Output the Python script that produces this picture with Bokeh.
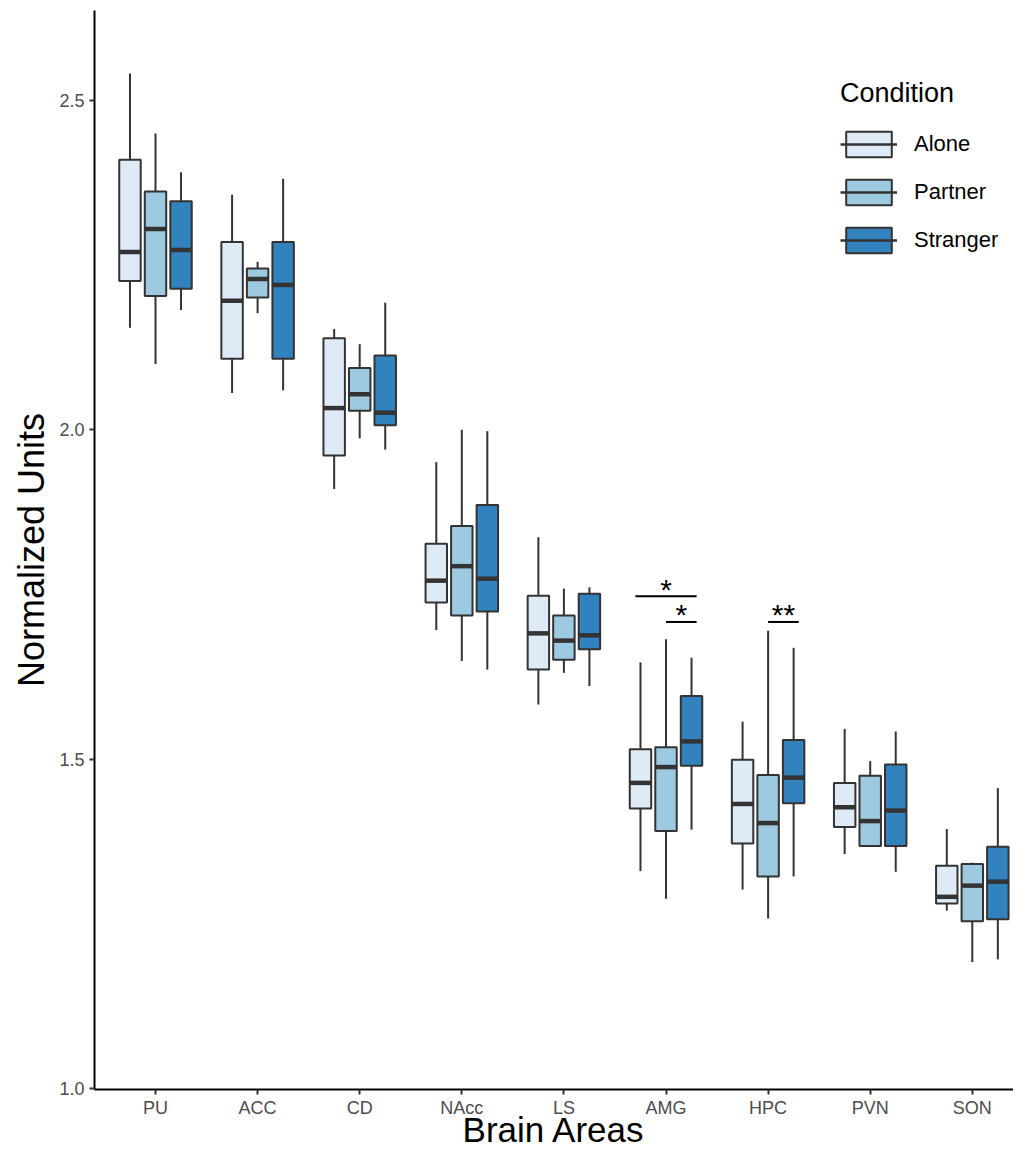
from bokeh.plotting import figure
from bokeh.models import (ColumnDataSource, Range1d, FixedTicker, Legend, LegendItem,
                          NumeralTickFormatter)
from bokeh.embed import file_html
from bokeh.resources import INLINE
from bokeh.core.properties import value
import numpy as np

# ---------------- data ----------------
areas = ["PU", "ACC", "CD", "NAcc", "LS", "AMG", "HPC", "PVN", "SON"]
conditions = ["Alone", "Partner", "Stranger"]
colors = ["#DEEBF7", "#9ECAE1", "#3182BD"]

alone_lower  = [2.155, 2.056, 1.910, 1.696, 1.583, 1.330, 1.302, 1.356, 1.270]
alone_q1     = [2.226, 2.108, 1.961, 1.738, 1.636, 1.425, 1.372, 1.397, 1.281]
alone_median = [2.270, 2.196, 2.033, 1.771, 1.691, 1.464, 1.432, 1.427, 1.291]
alone_q3     = [2.410, 2.285, 2.139, 1.827, 1.748, 1.515, 1.499, 1.464, 1.338]
alone_upper  = [2.541, 2.357, 2.153, 1.951, 1.837, 1.647, 1.557, 1.546, 1.394]

partner_lower  = [2.100, 2.177, 1.987, 1.649, 1.631, 1.288, 1.258, 1.368, 1.192]
partner_q1     = [2.203, 2.201, 2.029, 1.718, 1.651, 1.391, 1.322, 1.368, 1.254]
partner_median = [2.305, 2.229, 2.054, 1.793, 1.680, 1.488, 1.403, 1.406, 1.308]
partner_q3     = [2.362, 2.245, 2.094, 1.854, 1.718, 1.518, 1.476, 1.475, 1.341]
partner_upper  = [2.450, 2.255, 2.130, 2.000, 1.759, 1.682, 1.695, 1.497, 1.343]

stranger_lower  = [2.182, 2.060, 1.970, 1.636, 1.611, 1.393, 1.322, 1.329, 1.196]
stranger_q1     = [2.214, 2.108, 2.007, 1.724, 1.667, 1.490, 1.433, 1.368, 1.257]
stranger_median = [2.273, 2.220, 2.026, 1.774, 1.688, 1.527, 1.472, 1.422, 1.314]
stranger_q3     = [2.347, 2.285, 2.113, 1.886, 1.751, 1.596, 1.529, 1.492, 1.367]
stranger_upper  = [2.391, 2.381, 2.193, 1.998, 1.761, 1.654, 1.669, 1.542, 1.456]

# significance brackets: area, start/end offset (group units), height, label
sig_area  = ["AMG", "AMG", "HPC"]
sig_from  = [-0.3, 0.0, 0.0]
sig_to    = [0.3, 0.3, 0.3]
sig_y     = [1.7474, 1.7083, 1.7083]
sig_label = ["*", "*", "**"]

y_ticks = [1.0, 1.5, 2.0, 2.5]

stats = {
    "Alone": (alone_lower, alone_q1, alone_median, alone_q3, alone_upper),
    "Partner": (partner_lower, partner_q1, partner_median, partner_q3, partner_upper),
    "Stranger": (stranger_lower, stranger_q1, stranger_median, stranger_q3, stranger_upper),
}

# ---------------- figure ----------------
FONT = "Liberation Sans"
DARK = "#333333"
dodge = 0.25
box_w = 0.21

p = figure(width=1013, height=1151, title=None,
           x_range=Range1d(0.4025, 9.4035), y_range=Range1d(0.9985, 2.6366),
           output_backend="svg", toolbar_location=None,
           min_border_left=94, min_border_right=0, min_border_top=10, min_border_bottom=62)
p.xgrid.visible = False
p.ygrid.visible = False
p.outline_line_color = None
p.background_fill_color = "white"

base_x = np.arange(1, len(areas) + 1)
legend_items = []
for k, (cond, col) in enumerate(zip(conditions, colors)):
    lo, q1, med, q3, hi = stats[cond]
    x = base_x + (k - 1) * dodge
    src = ColumnDataSource(dict(area=areas, x=x, lo=lo, q1=q1, med=med, q3=q3, hi=hi,
                                xl=x - box_w / 2, xr=x + box_w / 2))
    p.segment(x0="x", y0="q3", x1="x", y1="hi", source=src, line_color=DARK, line_width=2)
    p.segment(x0="x", y0="q1", x1="x", y1="lo", source=src, line_color=DARK, line_width=2)
    box = p.vbar(x="x", width=box_w, top="q3", bottom="q1", source=src,
                 fill_color=col, line_color=DARK, line_width=2)
    p.segment(x0="xl", y0="med", x1="xr", y1="med", source=src, line_color=DARK, line_width=4.5)
    # legend-only median line (a single NaN row, never drawn in the plot)
    leg_med = p.segment(x0=[np.nan], y0=[np.nan], x1=[np.nan], y1=[np.nan],
                        line_color=DARK, line_width=2.5)
    legend_items.append(LegendItem(label=cond, renderers=[box, leg_med]))

# significance brackets
sig_center = np.array([areas.index(a) + 1 for a in sig_area], dtype=float)
sig_x0 = sig_center + np.array(sig_from)
sig_x1 = sig_center + np.array(sig_to)
sig_src = ColumnDataSource(dict(x0=sig_x0, x1=sig_x1, y=sig_y, xm=(sig_x0 + sig_x1) / 2,
                                label=sig_label))
p.segment(x0="x0", y0="y", x1="x1", y1="y", source=sig_src, line_color="black", line_width=2)
p.text(x="xm", y="y", text="label", source=sig_src, text_font=value(FONT),
       text_font_size="30px", text_align="center", text_baseline="alphabetic",
       text_color="black", y_offset=-7)

# ---------------- axes ----------------
p.xaxis.ticker = FixedTicker(ticks=list(base_x.astype(int)))
p.xaxis.major_label_overrides = {int(i): a for i, a in zip(base_x, areas)}
p.yaxis.ticker = FixedTicker(ticks=y_ticks)
p.yaxis.formatter = NumeralTickFormatter(format="0.0")

for ax in (p.xaxis[0], p.yaxis[0]):
    ax.axis_line_color = "black"
    ax.axis_line_width = 2
    ax.major_tick_line_color = DARK
    ax.major_tick_line_width = 2
    ax.major_tick_out = 5
    ax.major_tick_in = 0
    ax.minor_tick_line_color = None
    ax.major_label_text_font = FONT
    ax.major_label_text_font_size = "18px"
    ax.major_label_text_color = "#4D4D4D"
    ax.axis_label_text_font = FONT
    ax.axis_label_text_font_style = "normal"
    ax.axis_label_text_color = "black"

p.xaxis.axis_label = "Brain Areas"
p.xaxis.axis_label_text_font_size = "35px"
p.xaxis.major_label_standoff = 3
p.xaxis.axis_label_standoff = -11
p.yaxis.axis_label = "Normalized Units"
p.yaxis.axis_label_text_font_size = "36px"
p.yaxis.major_label_standoff = 5
p.yaxis.axis_label_standoff = 4

# ---------------- legend ----------------
legend = Legend(items=legend_items, location=(736, 823), title="Condition",
                title_text_font=FONT, title_text_font_size="27px",
                title_text_font_style="normal", title_text_color="black",
                title_standoff=19,
                label_text_font=FONT, label_text_font_size="22px", label_text_color="black",
                glyph_width=57, glyph_height=32, label_standoff=17, spacing=16,
                padding=10, margin=0,
                background_fill_alpha=0, border_line_alpha=0)
p.add_layout(legend)

open("out.html", "w").write(file_html(p, INLINE, title="Normalized Units by Brain Area"))
